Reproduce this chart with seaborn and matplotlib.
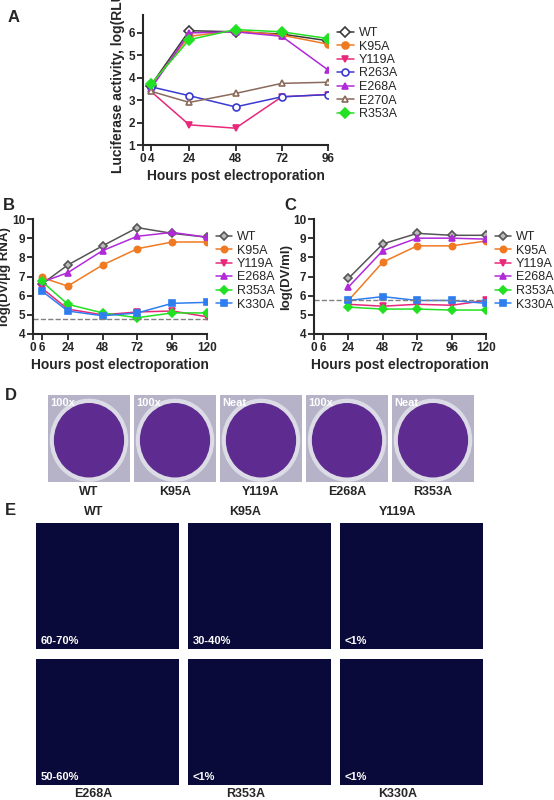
import numpy as np
import pandas as pd
import matplotlib
matplotlib.use("Agg")
import matplotlib.pyplot as plt
import seaborn as sns
from matplotlib.patches import Circle, Rectangle

sns.set_theme(style="ticks")
plt.rcParams['font.family'] = ['Liberation Sans', 'DejaVu Sans']
plt.rcParams['font.weight'] = 'bold'

# ---- data ----
a_hours = [4, 24, 48, 72, 96]
a_series = {
    "WT":    [3.65, 6.10, 6.05, 5.95, 5.65],
    "K95A":  [3.65, 5.85, 6.10, 5.90, 5.50],
    "Y119A": [3.40, 1.90, 1.75, 3.15, 3.25],
    "R263A": [3.60, 3.20, 2.70, 3.15, 3.25],
    "E268A": [3.50, 6.00, 6.05, 5.85, 4.35],
    "E270A": [3.40, 2.90, 3.30, 3.75, 3.80],
    "R353A": [3.70, 5.70, 6.15, 6.05, 5.75],
}
b_hours = [6, 24, 48, 72, 96, 120]
b_series = {
    "WT":    [6.60, 7.60, 8.60, 9.55, 9.25, 9.05],
    "K95A":  [6.95, 6.50, 7.60, 8.45, 8.80, 8.80],
    "Y119A": [6.40, 5.30, 5.00, 5.15, 5.20, 4.90],
    "E268A": [6.70, 7.20, 8.35, 9.10, 9.30, 9.05],
    "R353A": [6.75, 5.55, 5.10, 4.85, 5.10, 5.10],
    "K330A": [6.25, 5.20, 4.95, 5.10, 5.60, 5.65],
}
c_hours = [24, 48, 72, 96, 120]
c_series = {
    "WT":    [6.90, 8.70, 9.25, 9.15, 9.15],
    "K95A":  [5.75, 7.75, 8.60, 8.60, 8.85],
    "Y119A": [5.55, 5.45, 5.55, 5.50, 5.75],
    "E268A": [6.45, 8.35, 9.00, 9.00, 8.95],
    "R353A": [5.40, 5.30, 5.30, 5.25, 5.25],
    "K330A": [5.75, 5.95, 5.75, 5.75, 5.60],
}
b_limit = 4.78
c_limit = 5.78
d_labels = ["WT", "K95A", "Y119A", "E268A", "R353A"]
d_dilutions = ["100x", "100x", "Neat", "100x", "Neat"]
e_top = ["WT", "K95A", "Y119A"]
e_bottom = ["E268A", "R353A", "K330A"]
e_top_pct = ["60-70%", "30-40%", "<1%"]
e_bottom_pct = ["50-60%", "<1%", "<1%"]

styles = {
    "WT":    dict(color="#3a3a3a", marker="D", mfc="white"),
    "K95A":  dict(color="#f07a22", marker="o", mfc=None),
    "Y119A": dict(color="#e8287a", marker="v", mfc=None),
    "R263A": dict(color="#3a3ad0", marker="o", mfc="white"),
    "E268A": dict(color="#b02ad8", marker="^", mfc=None),
    "E270A": dict(color="#8a6a5a", marker="^", mfc="white"),
    "R353A": dict(color="#22e022", marker="D", mfc=None),
    "K330A": dict(color="#2f7ef0", marker="s", mfc=None),
}

def draw(ax, hours, series, ms=5, lx=1.04, wt=None):
    for name, vals in series.items():
        st = dict(styles[name])
        if wt and name == "WT":
            st.update(wt)
        df = pd.DataFrame({"h": hours, "v": vals})
        sns.lineplot(data=df, x="h", y="v", ax=ax, color=st["color"], marker=st["marker"],
                     markersize=ms, markerfacecolor=st["mfc"] or st["color"],
                     markeredgecolor=st["color"], markeredgewidth=1.2,
                     linewidth=1.1, label=name)
    ax.legend(loc="center left", bbox_to_anchor=(lx, 0.55), frameon=False,
              handlelength=1.3, handletextpad=0.4, labelspacing=0.12, borderaxespad=0,
              borderpad=0, prop={'weight': 'normal', 'size': 9})
    sns.despine(ax=ax)
    for s in ax.spines.values():
        s.set_linewidth(1.5)
    ax.tick_params(width=1.3, length=4, labelsize=8.5, pad=1.5)

fig = plt.figure(figsize=(5.54, 8.0), dpi=100)

# Panel A
axA = fig.add_axes([143/554, 1-145/800, 185/554, 130/800])
draw(axA, a_hours, a_series, lx=1.05)
axA.set_xlim(0, 96); axA.set_ylim(1, 6.8)
axA.set_xticks([0, 4, 24, 48, 72, 96]); axA.set_xticklabels(["0", "4", "24", "48", "72", "96"])
axA.set_yticks([1, 2, 3, 4, 5, 6])
axA.set_xlabel("Hours post electroporation", fontsize=10, fontweight="bold", labelpad=3)
axA.set_ylabel("Luciferase activity, log(RLU)", fontsize=10, fontweight="bold", labelpad=3)
fig.text(8/554, 1-22/800, "A", fontsize=12, fontweight="bold")

wt_bc = dict(color="#555555", mfc="#bbbbbb")

# Panel B
axB = fig.add_axes([33/554, 1-334/800, 174/554, 115/800])
draw(axB, b_hours, b_series, ms=4.5, lx=1.05, wt=wt_bc)
axB.axhline(b_limit, color="gray", ls="--", lw=1)
axB.set_xlim(0, 120); axB.set_ylim(4, 10)
axB.set_yticks([4, 5, 6, 7, 8, 9, 10])
axB.set_xticks([0, 6, 24, 48, 72, 96, 120]); axB.set_xticklabels(["0", "6", "24", "48", "72", "96", "120"])
axB.set_xlabel("Hours post electroporation", fontsize=10, fontweight="bold", labelpad=3)
axB.set_ylabel("log(DV/\u03bcg RNA)", fontsize=9.5, fontweight="bold", labelpad=1)
fig.text(3/554, 1-210/800, "B", fontsize=12, fontweight="bold")

# Panel C
axC = fig.add_axes([314/554, 1-334/800, 172/554, 115/800])
draw(axC, c_hours, c_series, ms=4.5, lx=1.05, wt=wt_bc)
axC.axhline(c_limit, color="gray", ls="--", lw=1)
axC.set_xlim(0, 120); axC.set_ylim(4, 10)
axC.set_yticks([4, 5, 6, 7, 8, 9, 10])
axC.set_xticks([0, 6, 24, 48, 72, 96, 120]); axC.set_xticklabels(["0", "6", "24", "48", "72", "96", "120"])
axC.set_xlabel("Hours post electroporation", fontsize=10, fontweight="bold", labelpad=3)
axC.set_ylabel("log(DV/ml)", fontsize=9.5, fontweight="bold", labelpad=1)
fig.text(284/554, 1-210/800, "C", fontsize=12, fontweight="bold")

# Panel D: plaque wells
fig.text(5/554, 1-400/800, "D", fontsize=12, fontweight="bold")
for i, (lab, dil) in enumerate(zip(d_labels, d_dilutions)):
    ax = fig.add_axes([(48 + i*86)/554, 1-482/800, 82/554, 87/800])
    ax.set_xlim(0, 1); ax.set_ylim(0, 1); ax.axis("off")
    ax.add_patch(Rectangle((0, 0), 1, 1, color="#b6b2c8"))
    ax.add_patch(Circle((0.5, 0.48), 0.47, color="#dcdce6"))
    ax.add_patch(Circle((0.5, 0.48), 0.42, color="#5e2b90"))
    ax.text(0.03, 0.97, dil, color="white", fontsize=8, fontweight="bold", va="top")
    ax.text(0.5, -0.05, lab, ha="center", va="top", fontsize=9, fontweight="bold")

# Panel E: IF panels
fig.text(5/554, 1-515/800, "E", fontsize=12, fontweight="bold")
for row, (labs, pcts) in enumerate([(e_top, e_top_pct), (e_bottom, e_bottom_pct)]):
    for i, (lab, pct) in enumerate(zip(labs, pcts)):
        y0 = 523 + row*136
        ax = fig.add_axes([(36 + i*152)/554, 1-(y0+126)/800, 143/554, 126/800])
        ax.set_xlim(0, 1); ax.set_ylim(0, 1); ax.axis("off")
        ax.add_patch(Rectangle((0, 0), 1, 1, color="#0a0a3a"))
        ax.text(0.03, 0.04, pct, color="white", fontsize=8, fontweight="bold")
        if row == 0:
            ax.text(0.4, 1.04, lab, ha="center", va="bottom", fontsize=9, fontweight="bold")
        else:
            ax.text(0.4, -0.02, lab, ha="center", va="top", fontsize=9, fontweight="bold")

fig.savefig("out.png", dpi=100)
